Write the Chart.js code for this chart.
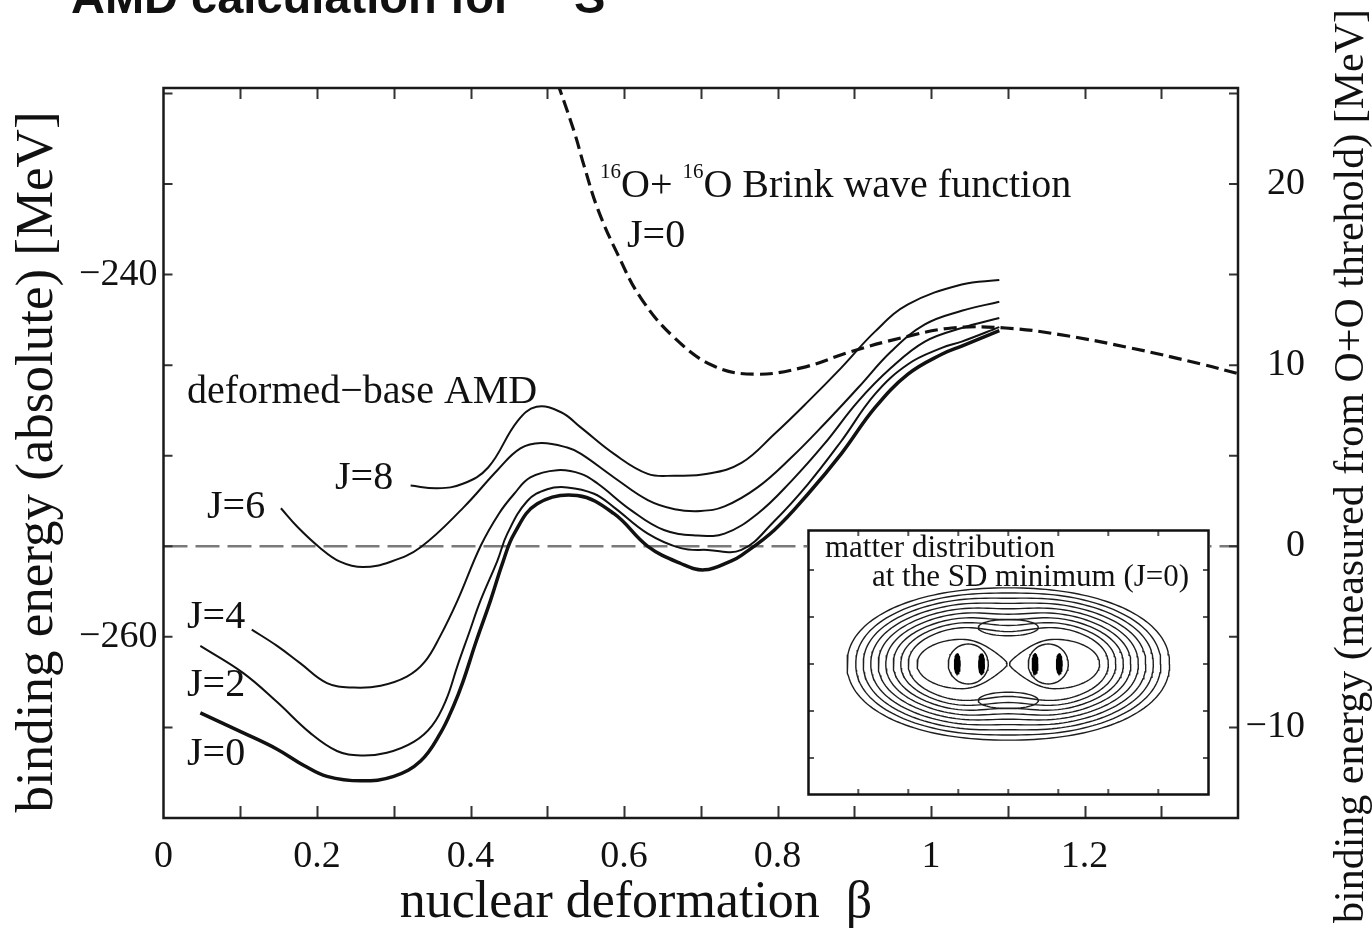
<!DOCTYPE html>
<html>
<head>
<meta charset="utf-8">
<script src="https://cdn.jsdelivr.net/npm/chart.js@4.4.1/dist/chart.umd.min.js"></script>
<style>
html,body{margin:0;padding:0;background:#fff;}
#wrap{position:relative;width:1372px;height:932px;overflow:hidden;background:#fff;}
#main{position:absolute;left:0;top:0;}
#inset{position:absolute;left:807px;top:529px;}
</style>
</head>
<body>
<div id="wrap">
<canvas id="main" width="1372" height="932"></canvas>
<canvas id="inset" width="403" height="267"></canvas>
</div>
<script>
// ---------------- data ----------------
// x: nuclear deformation beta ; y: binding energy (absolute) [MeV]
const betaJ0 = [0.048,0.104,0.148,0.183,0.213,0.257,0.300,0.335,0.361,0.378,0.390,0.407,0.426,0.442,0.457,0.487,0.539,0.587,0.631,0.674,0.705,0.740,0.753,0.796,0.840,0.883,0.927,0.970,1.014,1.040,1.089];
const energyJ0 = [-264.2,-265.3,-266.2,-267.1,-267.7,-267.95,-267.7,-266.85,-265.3,-263.8,-262.5,-260.3,-258.0,-255.9,-254.3,-252.65,-252.2,-253.2,-255.0,-255.95,-256.3,-255.8,-255.5,-254.1,-252.1,-249.9,-247.35,-245.5,-244.4,-243.95,-243.1];

const betaJ2 = [0.048,0.104,0.148,0.191,0.226,0.257,0.291,0.326,0.350,0.368,0.383,0.398,0.413,0.435,0.448,0.474,0.500,0.526,0.561,0.587,0.631,0.674,0.709,0.753,0.796,0.840,0.883,0.927,0.970,1.014,1.040,1.089];
const energyJ2 = [-260.5,-262.0,-263.6,-265.3,-266.3,-266.55,-266.4,-265.8,-264.9,-263.5,-261.6,-259.8,-258.0,-255.8,-254.3,-252.5,-251.85,-251.75,-252.1,-252.85,-254.3,-255.1,-255.2,-255.2,-253.6,-251.55,-249.2,-246.6,-244.95,-244.05,-243.7,-242.9];

const betaJ4 = [0.115,0.148,0.178,0.213,0.248,0.283,0.317,0.340,0.360,0.383,0.413,0.437,0.457,0.478,0.513,0.544,0.566,0.609,0.652,0.696,0.731,0.774,0.818,0.861,0.905,0.948,0.992,1.040,1.089];
const energyJ4 = [-259.6,-260.5,-261.45,-262.55,-262.8,-262.7,-262.2,-261.4,-260.0,-258.0,-255.0,-253.2,-252.1,-251.2,-250.8,-251.0,-251.55,-253.0,-254.1,-254.4,-254.3,-253.2,-251.4,-249.35,-247.0,-245.15,-243.7,-242.95,-242.4];

const betaJ6 = [0.153,0.175,0.203,0.230,0.260,0.296,0.335,0.391,0.435,0.465,0.492,0.526,0.544,0.587,0.631,0.666,0.700,0.731,0.774,0.818,0.861,0.905,0.948,0.992,1.040,1.089];
const energyJ6 = [-252.9,-253.95,-255.05,-255.85,-256.15,-255.85,-255.05,-252.85,-250.8,-249.6,-249.3,-249.55,-249.9,-251.2,-252.45,-252.95,-253.05,-252.8,-251.75,-250.1,-248.25,-246.25,-244.25,-242.75,-242.0,-241.5];

const betaJ8 = [0.322,0.357,0.390,0.423,0.461,0.486,0.518,0.544,0.587,0.631,0.666,0.709,0.753,0.796,0.840,0.883,0.927,0.970,1.040,1.089];
const energyJ8 = [-251.65,-251.8,-251.55,-250.65,-248.1,-247.3,-247.6,-248.45,-249.9,-251.0,-251.1,-251.0,-250.4,-248.8,-247.0,-245.15,-243.15,-241.65,-240.55,-240.3];

const betaBrink = [0.505,0.535,0.548,0.566,0.592,0.622,0.666,0.717,0.770,0.831,0.896,0.961,1.027,1.097,1.166,1.260,1.353,1.403];
const energyBrink = [-228.4,-232.1,-234.0,-236.4,-238.9,-241.3,-243.5,-245.05,-245.5,-245.15,-244.25,-243.5,-242.95,-242.95,-243.3,-244.05,-244.95,-245.5];

const betaThreshold = [0, 1.4];
const energyThreshold = [-255, -255];   // O+O threshold (right axis 0)

// tick values / labels
const xTickValues = [0,0.1,0.2,0.3,0.4,0.5,0.6,0.7,0.8,0.9,1.0,1.1,1.2,1.3,1.4];
const xTickLabels = ['0','','0.2','','0.4','','0.6','','0.8','','1','','1.2','',''];
const yTickValues = [-270,-265,-260,-255,-250,-245,-240,-235,-230];
const yTickLabels = ['','','\u2212260','','','','\u2212240','',''];
const y2TickValues = [-15,-10,-5,0,5,10,15,20,25];
const y2TickLabels = ['','\u221210','','0','','10','','20',''];

// inset contour sizes (fm)
const contourHalfWidth  = [6.45, 6.1, 5.8, 5.5, 5.2, 4.9, 4.6, 4.3, 4.0];
const contourHalfHeight = [3.24, 3.06, 2.88, 2.7, 2.52, 2.34, 2.16, 1.98, 1.8];
const contourWaist      = [0.0, 0.04, 0.08, 0.12, 0.17, 0.22, 0.28, 0.34, 0.42];
const lobeCenters = [-1.85, 1.85];
const lobeSize = [1.8, 1.05];
const ringCenters = [-1.6, 1.6];
const ringSize = [0.8, 0.85];
const coreCenters = [-2.04, -1.07, 1.07, 2.04];
const coreSize = [0.11, 0.43];
const saddleCenters = [1.55, -1.55];
const saddleSize = [1.2, 0.35];
const insetTickX = [-6,-4,-2,0,2,4,6];
const insetTickY = [-4,-2,0,2,4];

// ---------------- helpers ----------------
const pts = (xs, ys) => xs.map((x, i) => ({x: x, y: ys[i]}));
const SERIF = '"Liberation Serif", "Times New Roman", serif';
const INK = '#111';

function lineSet(label, xs, ys, width, dash, order) {
  return {
    label: label, data: pts(xs, ys), borderColor: INK, backgroundColor: INK,
    borderWidth: width, borderDash: dash || [], pointRadius: 0,
    tension: 0.4, fill: false, order: order || 0
  };
}

const tickFont = {family: 'Liberation Serif', size: 38};

const frame = {
  id: 'frame',
  afterDraw(chart) {
    const ctx = chart.ctx, a = chart.chartArea;
    const sx = chart.scales.x, sy = chart.scales.y, sy2 = chart.scales.y2;
    ctx.save();
    // inward tick marks
    ctx.strokeStyle = '#333'; ctx.lineWidth = 2;
    ctx.beginPath();
    xTickValues.forEach(v => {
      if (v <= 0 || v >= 1.4) return;
      const p = Math.round(sx.getPixelForValue(v)) + 0.5;
      ctx.moveTo(p, a.bottom); ctx.lineTo(p, a.bottom - 12);
      ctx.moveTo(p, a.top); ctx.lineTo(p, a.top + 11);
    });
    yTickValues.forEach(v => {
      const p = sy.getPixelForValue(v);
      if (p <= a.top + 2 || p >= a.bottom - 2) return;
      ctx.moveTo(a.left, p); ctx.lineTo(a.left + 9, p);
    });
    y2TickValues.forEach(v => {
      const p = sy2.getPixelForValue(v);
      if (p <= a.top + 2 || p >= a.bottom - 2) return;
      ctx.moveTo(a.right, p); ctx.lineTo(a.right - 9, p);
    });
    ctx.stroke();
    // frame
    ctx.strokeStyle = '#1a1a1a'; ctx.lineWidth = 2.5;
    ctx.strokeRect(a.left, a.top, a.right - a.left, a.bottom - a.top);

    // texts
    ctx.fillStyle = INK;
    ctx.textBaseline = 'alphabetic';
    ctx.textAlign = 'left';
    // figure title (cut off at the top edge)
    ctx.font = 'bold 47px "Liberation Sans", Arial, sans-serif';
    ctx.fillText('AMD calculation for', 71, 13);
    ctx.font = 'bold 30px "Liberation Sans", Arial, sans-serif';
    ctx.fillText('32', 536, -6);
    ctx.font = 'bold 47px "Liberation Sans", Arial, sans-serif';
    ctx.fillText('S', 574, 13);

    // annotations inside the plot
    ctx.font = '40px ' + SERIF;
    ctx.fillText('deformed\u2212base AMD', 187, 403);
    ctx.fillText('J=8', 335, 489);
    ctx.fillText('J=6', 207, 518);
    ctx.fillText('J=4', 187, 628);
    ctx.fillText('J=2', 187, 696);
    ctx.fillText('J=0', 187, 765);
    ctx.fillText('J=0', 627, 247);
    // 16O + 16O Brink wave function
    let x = 600;
    const seg = (t, size, dy) => {
      ctx.font = size + 'px ' + SERIF;
      ctx.fillText(t, x, 197 + dy);
      x += ctx.measureText(t).width;
    };
    seg('16', 21, -19); seg('O+ ', 40, 0); seg('16', 21, -19); seg('O Brink wave function', 40, 0);

    // axis titles
    ctx.textAlign = 'center';
    ctx.font = '52px ' + SERIF;
    ctx.fillText('nuclear deformation  \u03B2', 636, 917);

    ctx.save();
    ctx.translate(38, 462); ctx.rotate(-Math.PI / 2);
    ctx.textBaseline = 'middle';
    ctx.font = '53px ' + SERIF;
    ctx.fillText('binding energy (absolute) [MeV]', 0, 0);
    ctx.restore();

    ctx.save();
    ctx.translate(1352, 466); ctx.rotate(-Math.PI / 2);
    ctx.textBaseline = 'middle';
    ctx.font = '42px ' + SERIF;
    ctx.fillText('binding energy (measured from O+O threhold) [MeV]', 0, 0);
    ctx.restore();

    ctx.restore();
  }
};

new Chart(document.getElementById('main'), {
  type: 'line',
  data: {
    datasets: [
      Object.assign(lineSet('threshold', betaThreshold, energyThreshold, 2.5, [24, 8], 10), {borderColor: '#7a7a7a', tension: 0}),
      lineSet('Brink J=0', betaBrink, energyBrink, 3.2, [13, 6], 1),
      lineSet('J=8', betaJ8, energyJ8, 2, null, 2),
      lineSet('J=6', betaJ6, energyJ6, 2, null, 2),
      lineSet('J=4', betaJ4, energyJ4, 2, null, 2),
      lineSet('J=2', betaJ2, energyJ2, 2, null, 2),
      lineSet('J=0', betaJ0, energyJ0, 3.5, null, 0)
    ]
  },
  options: {
    responsive: false, animation: false, devicePixelRatio: 1,
    layout: {padding: {top: 88, right: 67, bottom: 0, left: 0}},
    plugins: {legend: {display: false}, tooltip: {enabled: false}, title: {display: false}},
    scales: {
      x: {
        type: 'linear', min: 0, max: 1.4,
        grid: {display: false, drawTicks: false}, border: {display: false},
        afterBuildTicks: s => { s.ticks = xTickValues.map(v => ({value: v})); },
        afterFit: s => { s.height = 114; },
        ticks: {autoSkip: false, maxRotation: 0, minRotation: 0, padding: 16, color: INK, font: tickFont,
                callback: (v, i) => xTickLabels[i]}
      },
      y: {
        type: 'linear', position: 'left', min: -270, max: -229.7,
        grid: {display: false, drawTicks: false}, border: {display: false},
        afterBuildTicks: s => { s.ticks = yTickValues.map(v => ({value: v})); },
        afterFit: s => { s.width = 163.5; },
        ticks: {autoSkip: false, padding: 6, color: INK, font: tickFont,
                callback: (v, i) => yTickLabels[i]}
      },
      y2: {
        type: 'linear', position: 'right', min: -15, max: 25.3,
        grid: {display: false, drawTicks: false}, border: {display: false},
        afterBuildTicks: s => { s.ticks = y2TickValues.map(v => ({value: v})); },
        afterFit: s => { s.width = 67; },
        ticks: {autoSkip: false, padding: 6, crossAlign: 'far', color: INK, font: tickFont,
                callback: (v, i) => y2TickLabels[i]}
      }
    }
  },
  plugins: [frame]
});

// ---------------- inset: matter distribution ----------------
function closedShape(fn, steps) {
  const out = [];
  for (let k = 0; k <= steps; k++) out.push(fn(2 * Math.PI * k / steps));
  return out;
}
const sgn = v => (v < 0 ? -1 : 1);
const contourSets = [];
const contourStyle = {borderColor: '#1e1e1e', borderWidth: 1.4, pointRadius: 0, showLine: true, fill: false, tension: 0};

contourHalfWidth.forEach((a, i) => {
  const b = contourHalfHeight[i], w = contourWaist[i], n = 2.15;
  contourSets.push(Object.assign({data: closedShape(t => {
    const c = Math.cos(t), s = Math.sin(t);
    const x = a * sgn(c) * Math.pow(Math.abs(c), 2 / n);
    let y = b * sgn(s) * Math.pow(Math.abs(s), 2 / n);
    y -= sgn(s) * w * Math.exp(-(x * x) / 2.2);
    return {x: x, y: y};
  }, 180)}, contourStyle));
});
lobeCenters.forEach(cx => {
  const dir = cx < 0 ? 1 : -1;
  contourSets.push(Object.assign({data: closedShape(t => {
    const c = Math.cos(t), s = Math.sin(t);
    const p = Math.max(0, dir * c);
    return {x: cx + lobeSize[0] * c, y: lobeSize[1] * s * (1 - 0.55 * p * p)};
  }, 100)}, contourStyle));
});
ringCenters.forEach(cx => {
  contourSets.push(Object.assign({data: closedShape(t => ({x: cx + ringSize[0] * Math.cos(t), y: ringSize[1] * Math.sin(t)}), 60)}, contourStyle));
});
saddleCenters.forEach(cy => {
  contourSets.push(Object.assign({data: closedShape(t => ({x: saddleSize[0] * Math.cos(t), y: cy + saddleSize[1] * Math.sin(t)}), 60)}, contourStyle));
});
coreCenters.forEach(cx => {
  contourSets.push(Object.assign({data: closedShape(t => ({x: cx + coreSize[0] * Math.cos(t), y: coreSize[1] * Math.sin(t)}), 40)},
    contourStyle, {fill: 'shape', backgroundColor: '#000', borderColor: '#000'}));
});

const insetDeco = {
  id: 'insetDeco',
  beforeDraw(chart) {
    const ctx = chart.ctx;
    ctx.save(); ctx.fillStyle = '#fff'; ctx.fillRect(0, 0, chart.width, chart.height); ctx.restore();
  },
  afterDraw(chart) {
    const ctx = chart.ctx, sx = chart.scales.x, sy = chart.scales.y;
    const W = chart.width, H = chart.height;
    ctx.save();
    ctx.strokeStyle = '#555'; ctx.lineWidth = 2;
    ctx.beginPath();
    insetTickX.forEach(v => {
      const p = sx.getPixelForValue(v);
      ctx.moveTo(p, 2); ctx.lineTo(p, 7);
      ctx.moveTo(p, H - 2); ctx.lineTo(p, H - 7);
    });
    insetTickY.forEach(v => {
      const p = sy.getPixelForValue(v);
      ctx.moveTo(2, p); ctx.lineTo(7, p);
      ctx.moveTo(W - 2, p); ctx.lineTo(W - 7, p);
    });
    ctx.stroke();
    ctx.strokeStyle = '#111'; ctx.lineWidth = 2.5;
    ctx.strokeRect(1.5, 1.5, W - 3, H - 3);
    ctx.fillStyle = INK; ctx.textAlign = 'left'; ctx.textBaseline = 'alphabetic';
    ctx.font = '31px ' + SERIF;
    ctx.fillText('matter distribution', 18, 28);
    ctx.fillText('at the SD minimum (J=0)', 65, 57);
    ctx.restore();
  }
};

new Chart(document.getElementById('inset'), {
  type: 'scatter',
  data: {datasets: contourSets},
  options: {
    responsive: false, animation: false, devicePixelRatio: 1,
    layout: {padding: 0},
    plugins: {legend: {display: false}, tooltip: {enabled: false}},
    scales: {
      x: {type: 'linear', min: -8.052, max: 8.068, display: false},
      y: {type: 'linear', min: -5.617, max: 5.745, display: false}
    }
  },
  plugins: [insetDeco]
});
</script>
</body>
</html>
